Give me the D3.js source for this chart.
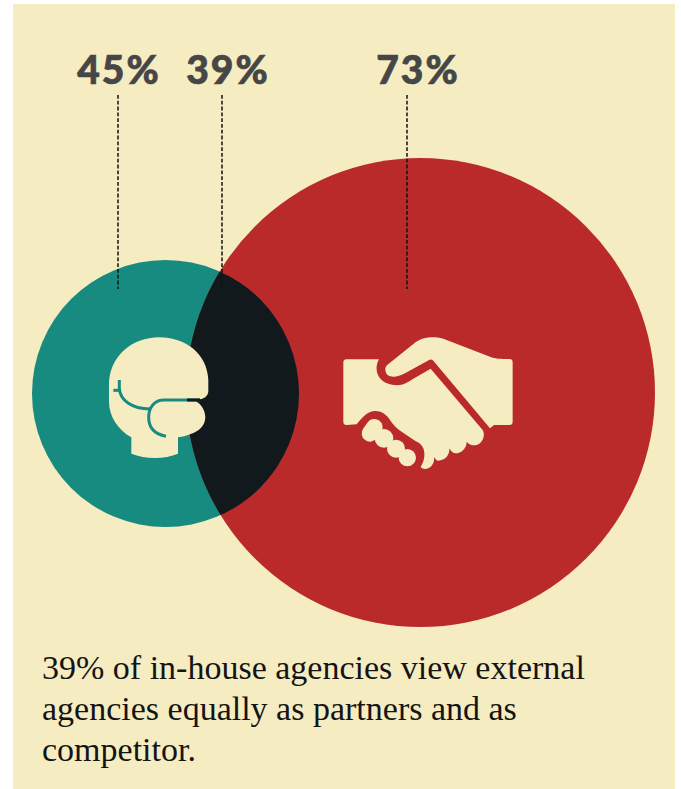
<!DOCTYPE html>
<html>
<head>
<meta charset="utf-8">
<script src="https://cdn.jsdelivr.net/npm/d3@7"></script>
<style>html,body{margin:0;background:#fff}svg{display:block}</style>
</head>
<body>
<div id="chart"></div>
<script>
// Survey shares shown as overlapping circles
const groups = ["Competitor", "Both", "Partner"];
const shares = [45, 39, 73];
const captionLines = [
  "39% of in-house agencies view external",
  "agencies equally as partners and as",
  "competitor."
];

const cream = "#f5ecc2", teal = "#178b7f", red = "#bb2a2b", dark = "#11191d", ink = "#464646";

const svg = d3.select("#chart").append("svg").attr("width", 681).attr("height", 789);
svg.append("rect").attr("x", 13).attr("y", 4).attr("width", 662).attr("height", 785).attr("fill", cream);

// Circle radius grows with the share
const radius = d3.scaleLinear().domain([45, 73]).range([133.5, 234.5]);
const circles = [
  {v: shares[0], cx: 165.5, cy: 393.5, fill: teal},
  {v: shares[2], cx: 420.5, cy: 392.5, fill: red}
];
svg.selectAll("circle.set").data(circles).join("circle")
  .attr("class", "set")
  .attr("cx", d => d.cx).attr("cy", d => d.cy).attr("r", d => radius(d.v)).attr("fill", d => d.fill);

// Overlap: the smaller circle repainted inside the larger one
const defs = svg.append("defs");
defs.append("clipPath").attr("id", "inRed").append("circle")
  .attr("cx", circles[1].cx).attr("cy", circles[1].cy).attr("r", radius(circles[1].v));
svg.append("circle").attr("cx", circles[0].cx).attr("cy", circles[0].cy).attr("r", radius(circles[0].v))
  .attr("fill", dark).attr("clip-path", "url(#inRed)");

// Head with headset icon, outlined on a 3x grid
const head = svg.append("g").attr("transform", "translate(90,320) scale(0.3333)");
head.append("path").attr("fill", cream).attr("d",
  "M124,352 L124,401 C165,418 225,418 264,401 L264,352 C280,350 292,346 302,342 C325,335 346,318 346,292 " +
  "C346,270 332,250 318,245 L330,238 C345,235 355,226 355,212 L355,180 C352,100 285,52 208,52 " +
  "C125,52 57,110 57,195 L57,245 C57,290 85,330 124,352 Z");
const headLines = [
  "M88,180 L88,205 C90,240 125,267 180,267",
  "M70,211 L90,211",
  "M228,349 C190,342 176,320 176,292 C176,260 195,240 222,240 L330,240"
];
head.selectAll("path.teal").data(headLines).join("path")
  .attr("class", "teal").attr("d", d => d)
  .attr("fill", "none").attr("stroke", teal).attr("stroke-width", 9);
head.append("path").attr("d", "M291,240 L330,240").attr("fill", "none").attr("stroke", dark).attr("stroke-width", 9);

// Handshake icon, outlined on a 3x grid
const hands = svg.append("g").attr("transform", "translate(330,320) scale(0.3333)").attr("fill", cream);
hands.append("path").attr("d",
  "M40,128 Q40,118 50,118 L147,118 C136,138 138,160 150,175 C165,193 190,197 210,195 C225,193 235,185 250,176 " +
  "L302,146 L458,330 C466,345 460,360 450,370 C440,378 422,380 410,365 C410,385 395,400 375,400 C368,400 362,392 358,385 " +
  "C360,405 345,422 325,422 C320,422 315,416 312,410 C316,430 300,447 285,447 C280,447 275,445 272,441 " +
  "C282,425 287,405 280,385 C275,372 265,367 255,362 L215,335 C200,325 190,315 180,300 C170,282 150,272 135,273 " +
  "C115,273 100,288 80,313 L50,315 Q40,315 40,305 Z");
hands.append("path").attr("d",
  "M166,150 C164,142 170,135 180,128 L250,72 C270,55 300,46 340,56 L480,110 C495,116 510,117 538,117 " +
  "Q548,117 548,127 L548,305 Q548,315 538,315 L492,315 L480,325 L310,122 Q304,116 296,121 L225,160 " +
  "C205,171 190,172 178,168 C170,165 167,158 166,150 Z");
hands.append("path").attr("d", "M120,340 L133,322")
  .attr("fill", "none").attr("stroke", cream).attr("stroke-width", 50).attr("stroke-linecap", "round");
hands.selectAll("circle").data([[162, 355, 28], [198, 386, 27], [232, 413, 26]]).join("circle")
  .attr("cx", d => d[0]).attr("cy", d => d[1]).attr("r", d => d[2]);

// Percent labels and their dashed leaders
const labels = [
  {v: shares[0], x: 118, tx: 119},
  {v: shares[1], x: 222, tx: 228},
  {v: shares[2], x: 407, tx: 418}
];
svg.selectAll("line.leader").data(labels).join("line")
  .attr("class", "leader")
  .attr("x1", d => d.x).attr("x2", d => d.x).attr("y1", 95).attr("y2", 289)
  .attr("stroke", "#111").attr("stroke-width", 1.5).attr("stroke-dasharray", "3.8 2");
svg.selectAll("text.pct").data(labels).join("text")
  .attr("class", "pct")
  .attr("x", d => d.tx).attr("y", 84).attr("text-anchor", "middle")
  .attr("font-family", "Lato").attr("font-weight", 900).attr("font-size", 39)
  .attr("letter-spacing", 2).attr("stroke", ink).attr("stroke-width", 0.7)
  .attr("fill", ink).text(d => d.v + "%");

// Caption
svg.selectAll("text.caption").data(captionLines).join("text")
  .attr("class", "caption")
  .attr("x", 42).attr("y", (d, i) => 679 + i * 41)
  .attr("font-family", "Liberation Serif").attr("font-size", 34)
  .attr("fill", "#141414").text(d => d);
</script>
</body>
</html>
